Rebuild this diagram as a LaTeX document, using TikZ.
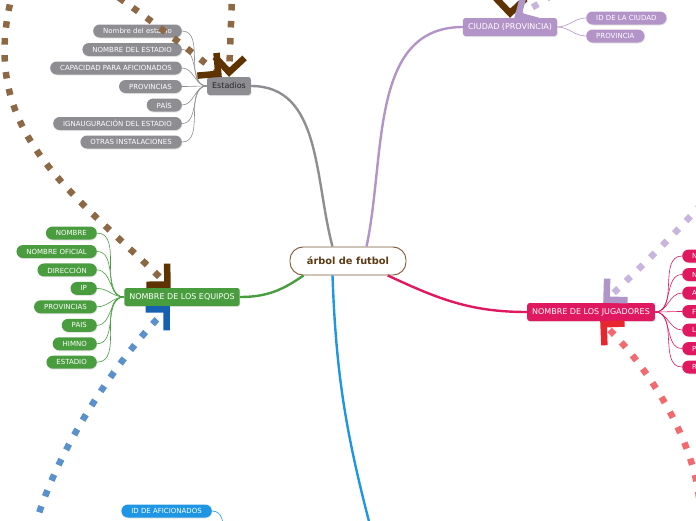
\documentclass[tikz,border=0pt]{standalone}
\usepackage{fontspec}
\setmainfont{DejaVu Sans}
\usetikzlibrary{arrows.meta,shadows}
\definecolor{rootline}{HTML}{7B5534}
\definecolor{rootink}{HTML}{5C3A14}
\definecolor{stadgray}{HTML}{8E8E92}
\definecolor{citypurple}{HTML}{B394C9}
\definecolor{playerpink}{HTML}{E0185F}
\definecolor{teamgreen}{HTML}{4A9D3F}
\definecolor{fanblue}{HTML}{1E96E4}
\definecolor{dotbrown}{HTML}{8C6844}
\definecolor{headbrown}{HTML}{5E3300}
\definecolor{dotblue}{HTML}{5A90CC}
\definecolor{headblue}{HTML}{1560B0}
\definecolor{dotlilac}{HTML}{C8B5DE}
\definecolor{headlilac}{HTML}{B096C8}
\definecolor{dotred}{HTML}{F26A6E}
\definecolor{headred}{HTML}{E8262F}
\tikzset{
  kid/.style={fill=#1,text=white,rounded corners=6.5pt,minimum height=13pt,inner xsep=10pt,inner ysep=0pt,
    font=\fontsize{7}{8}\selectfont,drop shadow={opacity=.2,shadow xshift=.5pt,shadow yshift=-1pt}},
  topic/.style={fill=#1,text=white,rounded corners=2.5pt,minimum height=18pt,inner xsep=5pt,inner ysep=0pt,
    font=\fontsize{8}{9}\selectfont,drop shadow={opacity=.2,shadow xshift=.5pt,shadow yshift=-1pt}},
  root/.style={draw=rootline,fill=white,line width=.9pt,rounded corners=13pt,minimum height=28pt,inner xsep=17pt,
    font=\bfseries\fontsize{9.8}{11}\selectfont,text=rootink},
  twig/.style={draw=#1,line width=.6pt},
  limb/.style={draw=#1,line width=2.4pt},
  rel/.style 2 args={draw=#1,line width=6.5pt,dash pattern=on 6.5pt off 10.5pt,
    -{Straight Barb[angle=90:21pt,line width=6.5pt,sharp,color=#2]}}
}

\begin{document}
\begin{tikzpicture}[x=1pt,y=-1pt]
  \clip (0,0) rectangle (696,520);
  % main topics
  \node[root] (ctr) at (348,261) {árbol de futbol};
  \node[topic=stadgray,text=black!85] (est) at (229,86) {Estadios};
  \node[topic=citypurple] (ciu) at (510,27) {CIUDAD (PROVINCIA)};
  \node[topic=playerpink] (jug) at (591,312) {NOMBRE DE LOS JUGADORES};
  \node[topic=teamgreen] (eq) at (182,297) {NOMBRE DE LOS EQUIPOS};
  \coordinate (aficL) at (236,562);
  \coordinate (aficR) at (376,548);

  % branches to the root
  \draw[limb=stadgray] (est.east) to[out=0,in=105] (ctr.137);
  \draw[limb=citypurple] (ciu.west) to[out=180,in=78] (ctr.38);
  \draw[limb=teamgreen] (eq.east) to[out=0,in=215] (ctr.198);
  \draw[limb=playerpink] (ctr.340) to[out=-25,in=180] (jug.west);
  \draw[limb=fanblue] (ctr.223) to[out=-88,in=105] (aficR);

  % subtopics
  \foreach \t [count=\i] in {Nombre del estadio,NOMBRE DEL ESTADIO,CAPACIDAD PARA AFICIONADOS,PROVINCIAS,PAÍS,IGNAUGURACIÓN DEL ESTADIO,OTRAS INSTALACIONES}{
    \node[kid=stadgray,anchor=east] (s\i) at (182,12.5+18.5*\i) {\t};
    \draw[twig=stadgray] (s\i.east) to[out=0,in=180] (est.west);
  }
  \foreach \t [count=\i] in {NOMBRE,NOMBRE OFICIAL,DIRECCIÓN,IP,PROVINCIAS,PAIS,HIMNO,ESTADIO}{
    \node[kid=teamgreen,anchor=east] (q\i) at (97,214.6+18.45*\i) {\t};
    \draw[twig=teamgreen] (q\i.east) to[out=0,in=180] (eq.west);
  }
  \foreach \t [count=\i] in {N,N,A,F,L,P,R}{
    \node[kid=playerpink,anchor=west,text width=30pt,align=left] (j\i) at (682,237.5+18.5*\i) {\t};
    \draw[twig=playerpink] (jug.east) to[out=0,in=180] (j\i.west);
  }
  \node[kid=citypurple,anchor=west] (c1) at (586,18) {ID DE LA CIUDAD};
  \node[kid=citypurple,anchor=west] (c2) at (586,36) {PROVINCIA};
  \draw[twig=citypurple] (ciu.east) to[out=0,in=180] (c1.west);
  \draw[twig=citypurple] (ciu.east) to[out=0,in=180] (c2.west);
  \node[kid=fanblue,anchor=east] (f1) at (212,511) {ID DE AFICIONADOS};
  \draw[twig=fanblue] (f1.east) to[out=0,in=180] (aficL);

  % relations
  \coordinate (rA) at (233,-30);
  \coordinate (rB) at (105,-12);
  \coordinate (rC) at (14,-12);
  \coordinate (rD) at (30,545);
  \coordinate (rE) at (712,190);
  \coordinate (rF) at (575,-30);
  \coordinate (rG) at (512,-60);
  \coordinate (rH) at (700,515);
  \draw[rel={dotbrown}{headbrown}] (rA) -- (est.north);
  \draw[rel={dotbrown}{headbrown}] (rB) .. controls (140,12) and (190,50) .. (est.128);
  \draw[rel={dotbrown}{headbrown}] (rC) .. controls (-26,130) and (68,187) .. (eq.141);
  \draw[rel={dotblue}{headblue}] (rD) .. controls (50,455) and (120,356) .. (eq.217);
  \draw[rel={dotlilac}{headlilac}] (rE) .. controls (700,210) and (640,268) .. (jug.37);
  \draw[rel={dotred}{headred}] (rH) .. controls (700,440) and (640,358) .. (jug.-45);
  \draw[rel={dotbrown}{headbrown}] (rG) -- (ciu.north);
  \draw[rel={dotlilac}{headlilac}] (rF) .. controls (565,-10) and (545,0) .. (ciu.65);
\end{tikzpicture}
\end{document}
